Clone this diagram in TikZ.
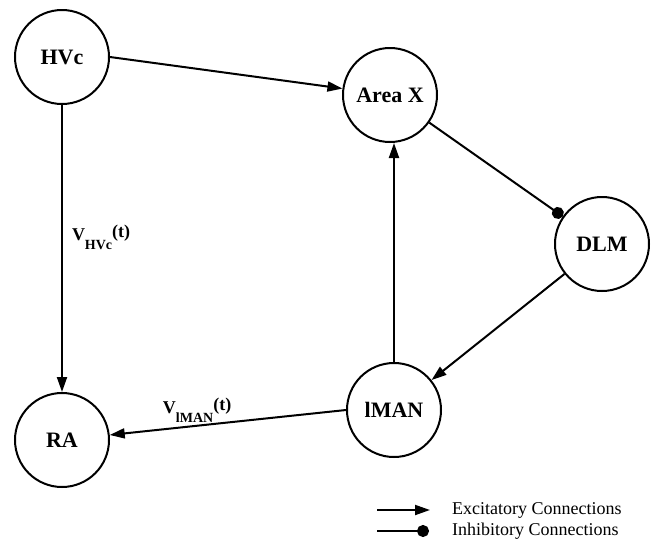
\documentclass[tikz,border=0pt]{standalone}
\usepackage{fontspec}
\setmainfont{Liberation Serif}
\usepackage{tikz}
\usetikzlibrary{positioning}
\usetikzlibrary{arrows.meta}
\tikzstyle{area} = [draw, circle, line width=2pt, minimum size=94pt, inner sep=0pt, font=\fontsize{22}{25}\selectfont\bfseries]
\tikzstyle{excite} = [-{Triangle[length=15pt,width=10pt]}, line width=2pt]
\tikzstyle{inhibit} = [-{Circle[length=12pt]}, line width=2pt]
\tikzstyle{coord} = [coordinate]
\tikzstyle{legend} = [font=\fontsize{18}{20}\selectfont, inner sep=0pt]
\tikzstyle{rate} = [font=\fontsize{18}{20}\selectfont\bfseries, inner sep=1pt]
\newcommand{\rateV}[1]{V\raisebox{-1.1ex}{\fontsize{14}{16}\selectfont #1}\raisebox{0.35ex}{(t)}}

\begin{document}
\begin{tikzpicture}[x=1pt,y=-1pt]
    \useasboundingbox (0,0) rectangle (654,542);
    \node [area] (hvc) at (62,57) {HVc};
    \node [area] (areax) at (390,95) {Area X};
    \node [area] (dlm) at (602,244) {DLM};
    \node [area] (lman) at (394,410) {lMAN};
    \node [area] (ra) at (62,440) {RA};

    \draw [excite] (hvc.east) -- (areax); % connections
    \draw [inhibit] (areax) -- (dlm);
    \draw [excite] (dlm) -- (lman);
    \draw [excite] (lman.north) -- (lman.north |- areax.south);
    \draw [excite] (hvc) -- node[rate, right=8pt, pos=0.46] {\rateV{HVc}} (ra);
    \draw [excite] (lman.west) -- node[rate, above=1pt, pos=0.63] {\rateV{lMAN}} (ra);

    \node [coord] (ex1) at (377,510) {};
    \node [coord] (ex2) at (430,510) {};
    \node [coord] (in1) at (377,531) {};
    \node [coord] (in2) at (429,531) {};
    \draw [excite] (ex1) -- (ex2); % legend
    \draw [inhibit] (in1) -- (in2);
    \node [legend, right = 22pt of ex2] (extext) {Excitatory Connections};
    \node [legend, right = 23pt of in2] (intext) {Inhibitory Connections};

\end{tikzpicture}
\end{document}
